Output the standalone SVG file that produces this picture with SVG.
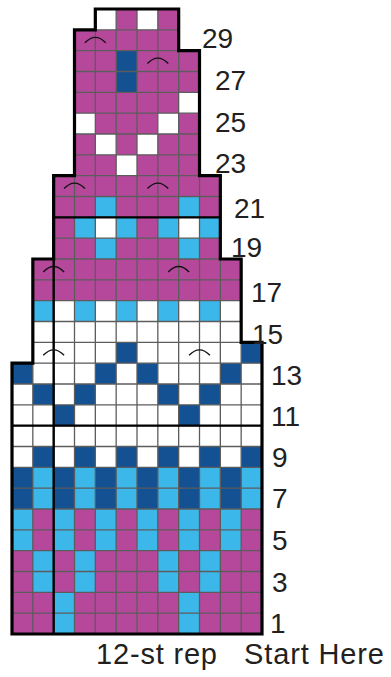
<svg xmlns="http://www.w3.org/2000/svg" width="391" height="677" viewBox="0 0 391 677">
<style>
.m{fill:#b6489c}
.l{fill:#3cb7ea}
.d{fill:#135192}
.w{fill:#ffffff}
.grid{stroke:#5c5c5c;stroke-width:1.3;fill:none;vector-effect:non-scaling-stroke}
.thick{stroke:#000;stroke-width:2.4;fill:none;vector-effect:non-scaling-stroke}
.outline{stroke:#000;stroke-width:3.2;fill:none;stroke-linejoin:miter;vector-effect:non-scaling-stroke}
.arc{stroke:#111;stroke-width:1.4;fill:none;vector-effect:non-scaling-stroke}
text{font-family:"Liberation Sans",Arial,sans-serif;fill:#231f20}
.num{font-size:28px}
.cap{font-size:29px}
</style>
<defs>
<clipPath id="shape">
<polygon points="0,30 0,17 1,17 1,12 2,12 2,8 3,8 3,1 4,1 4,0 8,0 8,2 9,2 9,8 10,8 10,12 11,12 11,16 12,16 12,30"/>
</clipPath>
</defs>
<rect width="391" height="677" fill="#fff"/>
<g id="chart" transform="translate(12,9) scale(20.8333)">
<g id="fills">
<polygon class="m" points="0,30 0,17 1,17 1,12 2,12 2,8 3,8 3,1 4,1 4,0 8,0 8,2 9,2 9,8 10,8 10,12 11,12 11,16 12,16 12,30"/>
<!-- rows 1-2 -->
<rect class="l" x="2" y="28" width="1" height="2"/><rect class="l" x="8" y="28" width="1" height="2"/>
<!-- rows 3-4 -->
<rect class="l" x="1" y="26" width="1" height="2"/><rect class="l" x="3" y="26" width="1" height="2"/><rect class="l" x="7" y="26" width="1" height="2"/><rect class="l" x="9" y="26" width="1" height="2"/>
<!-- rows 5-6 -->
<rect class="l" x="0" y="24" width="1" height="2"/><rect class="l" x="2" y="24" width="1" height="2"/><rect class="l" x="4" y="24" width="1" height="2"/><rect class="l" x="6" y="24" width="1" height="2"/><rect class="l" x="8" y="24" width="1" height="2"/><rect class="l" x="10" y="24" width="1" height="2"/>
<!-- rows 7-8 -->
<rect class="l" x="0" y="22" width="12" height="2"/>
<rect class="d" x="0" y="22" width="1" height="2"/><rect class="d" x="2" y="22" width="1" height="2"/><rect class="d" x="4" y="22" width="1" height="2"/><rect class="d" x="6" y="22" width="1" height="2"/><rect class="d" x="8" y="22" width="1" height="2"/><rect class="d" x="10" y="22" width="1" height="2"/>
<!-- rows 9-16 white base -->
<rect class="w" x="0" y="17" width="12" height="5"/>
<rect class="w" x="1" y="16" width="11" height="1"/>
<rect class="w" x="1" y="14" width="10" height="2"/>
<!-- row 9 -->
<rect class="d" x="1" y="21" width="1" height="1"/><rect class="d" x="3" y="21" width="1" height="1"/><rect class="d" x="5" y="21" width="1" height="1"/><rect class="d" x="7" y="21" width="1" height="1"/><rect class="d" x="9" y="21" width="1" height="1"/><rect class="d" x="11" y="21" width="1" height="1"/>
<!-- row 11 -->
<rect class="d" x="2" y="19" width="1" height="1"/><rect class="d" x="8" y="19" width="1" height="1"/>
<!-- row 12 -->
<rect class="d" x="1" y="18" width="1" height="1"/><rect class="d" x="3" y="18" width="1" height="1"/><rect class="d" x="7" y="18" width="1" height="1"/><rect class="d" x="9" y="18" width="1" height="1"/>
<!-- row 13 -->
<rect class="d" x="0" y="17" width="1" height="1"/><rect class="d" x="4" y="17" width="1" height="1"/><rect class="d" x="6" y="17" width="1" height="1"/><rect class="d" x="10" y="17" width="1" height="1"/>
<!-- row 14 -->
<rect class="d" x="5" y="16" width="1" height="1"/><rect class="d" x="11" y="16" width="1" height="1"/>
<!-- row 16 -->
<rect class="l" x="1" y="14" width="1" height="1"/><rect class="l" x="3" y="14" width="1" height="1"/><rect class="l" x="5" y="14" width="1" height="1"/><rect class="l" x="7" y="14" width="1" height="1"/><rect class="l" x="9" y="14" width="1" height="1"/>
<!-- row 19 -->
<rect class="l" x="4" y="11" width="1" height="1"/><rect class="l" x="8" y="11" width="1" height="1"/>
<!-- row 20 -->
<rect class="l" x="3" y="10" width="1" height="1"/><rect class="w" x="4" y="10" width="1" height="1"/><rect class="l" x="5" y="10" width="1" height="1"/><rect class="l" x="7" y="10" width="1" height="1"/><rect class="w" x="8" y="10" width="1" height="1"/><rect class="l" x="9" y="10" width="1" height="1"/>
<!-- row 21 -->
<rect class="l" x="4" y="9" width="1" height="1"/><rect class="l" x="8" y="9" width="1" height="1"/>
<!-- row 23 -->
<rect class="w" x="5" y="7" width="1" height="1"/>
<!-- row 24 -->
<rect class="w" x="4" y="6" width="1" height="1"/><rect class="w" x="6" y="6" width="1" height="1"/>
<!-- row 25 -->
<rect class="w" x="3" y="5" width="1" height="1"/><rect class="w" x="7" y="5" width="1" height="1"/>
<!-- row 26 -->
<rect class="w" x="8" y="4" width="1" height="1"/>
<!-- rows 27-28 -->
<rect class="d" x="5" y="2" width="1" height="2"/>
<!-- row 30 -->
<rect class="w" x="4" y="0" width="1" height="1"/><rect class="w" x="6" y="0" width="1" height="1"/>
</g>
<g id="gridlines" clip-path="url(#shape)">
<path class="grid" d="M1,0V30M2,0V30M3,0V30M4,0V30M5,0V30M6,0V30M7,0V30M8,0V30M9,0V30M10,0V30M11,0V30"/>
<path class="grid" d="M0,1H12M0,2H12M0,3H12M0,4H12M0,5H12M0,6H12M0,7H12M0,8H12M0,9H12M0,10H12M0,11H12M0,12H12M0,13H12M0,14H12M0,15H12M0,16H12M0,17H12M0,18H12M0,19H12M0,20H12M0,21H12M0,22H12M0,23H12M0,24H12M0,25H12M0,26H12M0,27H12M0,28H12M0,29H12"/>
</g>
<g id="rep-lines">
<path class="thick" d="M2,8V30M0,20H12M2,10H10"/>
</g>
<g id="symbols">
<path class="arc" d="M1.5,16.62Q2,16.1 2.5,16.62M8.5,16.62Q9,16.1 9.5,16.62"/>
<path class="arc" d="M1.5,12.62Q2,12.1 2.5,12.62M7.5,12.62Q8,12.1 8.5,12.62"/>
<path class="arc" d="M2.5,8.62Q3,8.1 3.5,8.62M6.5,8.62Q7,8.1 7.5,8.62"/>
<path class="arc" d="M6.5,2.62Q7,2.1 7.5,2.62"/>
<path class="arc" d="M3.5,1.62Q4,1.1 4.5,1.62"/>
</g>
<polygon id="outline" class="outline" points="0,30 0,17 1,17 1,12 2,12 2,8 3,8 3,1 4,1 4,0 8,0 8,2 9,2 9,8 10,8 10,12 11,12 11,16 12,16 12,30"/>
</g>
<g id="row-numbers" class="num">
<text x="202" y="48">29</text>
<text x="215" y="90">27</text>
<text x="215" y="132">25</text>
<text x="215" y="173">23</text>
<text x="234" y="218">21</text>
<text x="231" y="257">19</text>
<text x="251" y="302">17</text>
<text x="252" y="344">15</text>
<text x="271" y="385">13</text>
<text x="271" y="426">11</text>
<text x="272" y="467">9</text>
<text x="272" y="508">7</text>
<text x="272" y="550">5</text>
<text x="272" y="592">3</text>
<text x="270" y="633">1</text>
</g>
<g id="captions" class="cap">
<text x="96" y="664" textLength="121" lengthAdjust="spacing">12-st rep</text>
<text x="244" y="664" textLength="140" lengthAdjust="spacing">Start Here</text>
</g>
</svg>
